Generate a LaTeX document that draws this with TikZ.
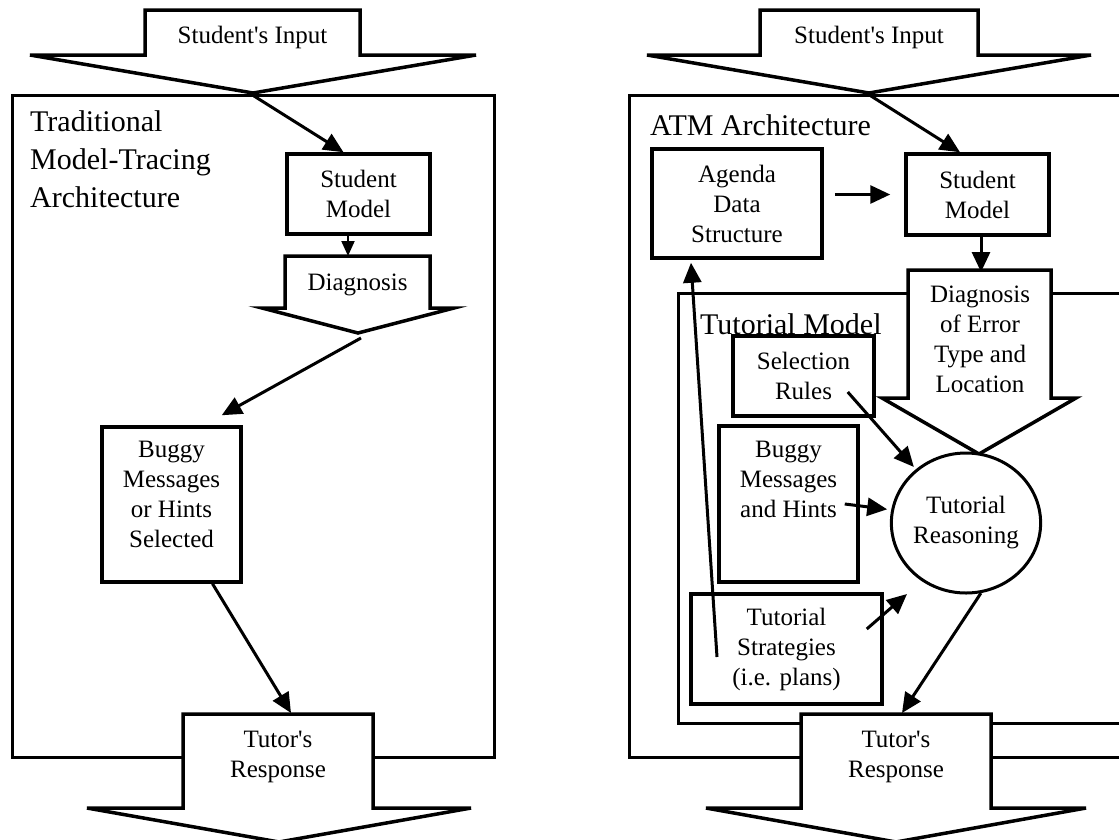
\documentclass[tikz,border=0pt]{standalone}
\usepackage{fontspec}
\setmainfont{Liberation Serif}
\usetikzlibrary{arrows.meta,shapes.geometric}
\newcommand\boxfont{\fontsize{25}{30}\selectfont}
\newcommand\ttlfont{\fontsize{30}{38}\selectfont}
% block arrow: left, right, top, shoulder, half wing, tip, centre
\def\blockarrow(#1:#2:#3:#4:#5:#6:#7){\draw[blk] (#1,#3) -- (#2,#3) -- (#2,#4) -- ({#7+#5},#4) -- (#7,#6) -- ({#7-#5},#4) -- (#1,#4) -- cycle;}

\begin{document}
\begin{tikzpicture}[x=1pt, y=-1pt,
	tbox/.style={draw, line width=3.5pt, fill=white, inner sep=0pt, align=center, font=\boxfont},
	txt/.style={inner sep=0pt, align=center, font=\boxfont},
	ttl/.style={inner sep=0pt, align=left, font=\ttlfont},
	blk/.style={line width=3.5pt, fill=white},
	frm/.style={line width=3pt},
	arr/.style={line width=3pt, -{Triangle[length=20pt,width=18pt]}}]
		%%%%% START %%%%%
		\useasboundingbox (0,0) rectangle (1119,839);
		\clip (0,0) rectangle (1119,839);
		
		%%%%% left: traditional %%%%%
		\draw[frm] (12,95) rectangle (494,757);
		\node[ttl, anchor=north west] (ttlL) at (30,110) {Traditional\\Model-Tracing\\Architecture};
		
		\blockarrow(145:360:10:55:223:93:253)
		\node[txt] (inL) at (252.5,37) {Student\textquotesingle s Input};
		\coordinate (inLtip) at (254,96);
		
		\node[tbox, minimum width=143pt, minimum height=80pt] (smL) at (358.5,194) {Student\\Model};
		
		\blockarrow(285:430:256:308:96:333:358)
		\node[txt] (dgL) at (357.5,284.5) {Diagnosis};
		\coordinate (dgLtop) at (348,256);
		\coordinate (dgLtip) at (361,338);
		
		\node[tbox, minimum width=139pt, minimum height=155pt] (bugL) at (171.5,504.5) {};
		\node[txt, anchor=north] (bugLt) at (171.5,441) {Buggy\\Messages\\or Hints\\Selected};
		
		\blockarrow(183:373:714:808:192:842:279)
		\node[txt] (toL) at (278,757) {Tutor\textquotesingle s\\Response};
		\coordinate (toLin) at (291,713);
		
		\draw[arr] (inLtip) -- ([xshift=-15pt]smL.north);
		\draw[line width=2pt, -{Triangle[length=15pt,width=13pt]}] ([xshift=-10.5pt]smL.south) -- (dgLtop);
		\draw[arr] (dgLtip) -- ([xshift=-21pt, yshift=10pt]bugL.north east);
		\draw[arr] ([xshift=41pt]bugL.south) -- (toLin);
		
		%%%%% right: ATM %%%%%
		\draw[frm] (1130,95) -- (629,95) -- (629,757) -- (1130,757);
		\node[ttl, anchor=base west] (ttlR) at (650,135) {ATM Architecture};
		\draw[frm] (1130,293) -- (678,293) -- (678,723) -- (1130,723);
		\node[ttl, anchor=base west] (ttlT) at (700,334) {Tutorial Model};
		
		\blockarrow(760:978:10:55:222:93:869)
		\node[txt] (inR) at (869,37) {Student\textquotesingle s Input};
		\coordinate (inRtip) at (871,96);
		
		\node[tbox, minimum width=170pt, minimum height=109pt] (agR) at (737,203.5) {Agenda\\Data\\Structure};
		\node[tbox, minimum width=143pt, minimum height=81pt] (smR) at (977.5,194.5) {Student\\Model};
		
		\blockarrow(908:1051:270:398:97:454:979)
		\node[txt] (dgR) at (980,339) {Diagnosis\\of Error\\Type and\\Location};
		\coordinate (dgRtop) at (981,272);
		
		\node[tbox, minimum width=141pt, minimum height=80pt] (srR) at (803.5,376) {Selection\\Rules};
		\node[tbox, minimum width=139pt, minimum height=156pt] (bmR) at (788.5,504) {};
		\node[txt, anchor=north] (bmRt) at (788.5,441) {Buggy\\Messages\\and Hints};
		\node[tbox, minimum width=191pt, minimum height=110pt] (tsR) at (786.5,649) {Tutorial\\Strategies\\(i.e. plans)};
		\node[draw, ellipse, line width=3pt, fill=white, inner sep=0pt, font=\boxfont, align=center,
			minimum width=148pt, minimum height=140pt] (trR) at (966,523) {Tutorial\\Reasoning};
		
		\blockarrow(801:991:714:808:190:842:896)
		\node[txt] (toR) at (896,757) {Tutor\textquotesingle s\\Response};
		\coordinate (toRin) at (902,713);
		\coordinate (tsRin) at (717,657);
		\coordinate (tsRend) at (907,594);
		
		\draw[arr] (inRtip) -- ([xshift=-17.5pt]smR.north);
		\draw[arr, shorten <=11pt, shorten >=14pt] (agR.east |- smR.west) -- (smR.west);
		\draw[arr] ([xshift=3.5pt]smR.south) -- (dgRtop);
		\draw[arr, shorten >=3pt] ([shift={(-28pt,-16pt)}]srR.east) -- (trR.133);
		\draw[arr, shorten >=4pt] ([xshift=-15pt]bmR.east) -- (trR.170);
		\draw[arr] ([shift={(-17pt,20pt)}]tsR.east) -- (tsRend);
		\draw[arr] (tsRin) -- ([xshift=-46pt, yshift=-3pt]agR.south);
		\draw[arr] (trR.-78) -- (toRin);
		
		%%%%% END %%%%%
	\end{tikzpicture}
\end{document}
